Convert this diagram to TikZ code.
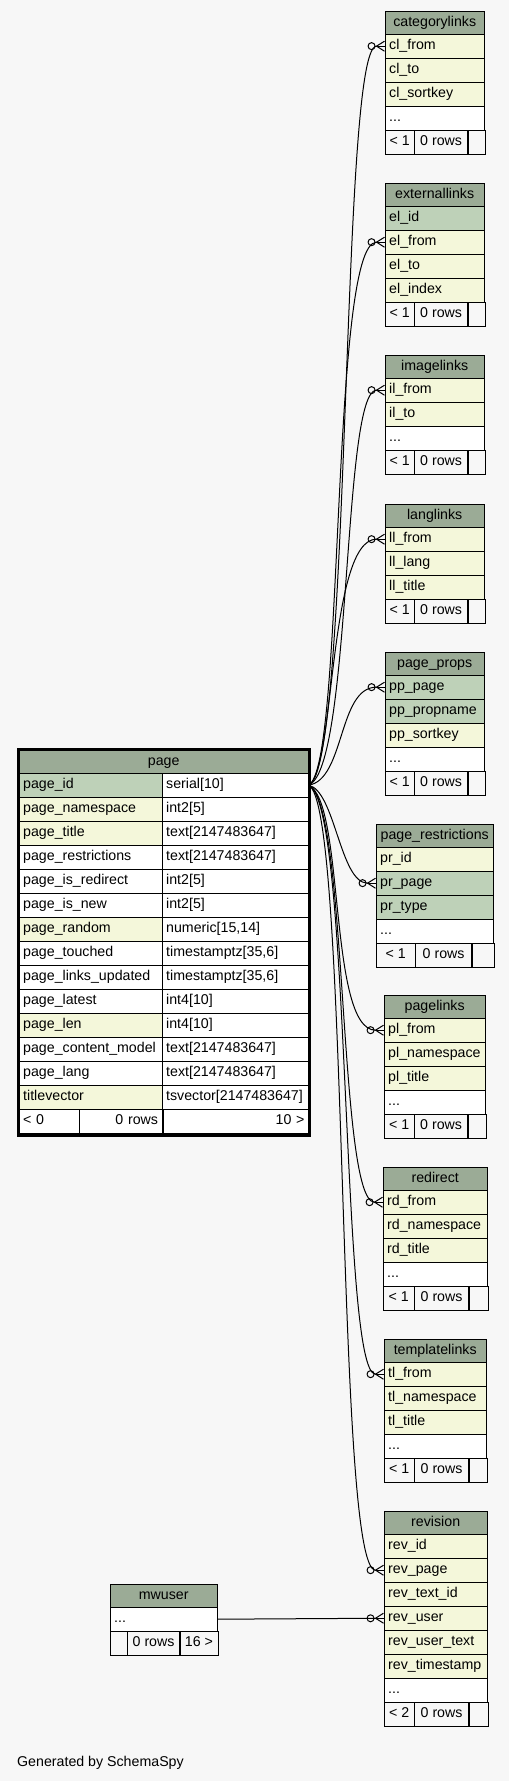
\documentclass[tikz,border=0pt]{standalone}
\usepackage{fontspec}
\setmainfont{Liberation Sans}
\usepackage{tikz}
\usetikzlibrary{arrows.meta,positioning}
\definecolor{headgreen}{HTML}{9BAB96}
\definecolor{keygreen}{HTML}{BED1B8}
\definecolor{idxyellow}{HTML}{F4F7DA}
\definecolor{canvas}{HTML}{F7F7F7}
\tikzset{
  tblhead/.style={draw, fill=headgreen, anchor=north west, inner sep=0pt, minimum height=23pt, text height=10.5pt, text depth=3pt},
  fieldrow/.style={draw, fill=#1, anchor=north west, inner xsep=4pt, inner ysep=0pt, minimum height=24pt, text height=10.5pt, text depth=3pt, align=left},
  tblfoot/.style={draw, fill=canvas, inner sep=0pt, minimum height=24pt, text height=10.5pt, text depth=3pt},
  fk/.style={line width=1pt, -{Circle[open,length=8pt,width=8pt,line width=1pt] Straight Barb[reversed,length=8pt,width=10pt,line width=1pt]}},
}

\begin{document}
\begin{tikzpicture}[x=1pt,y=-1pt,font=\fontsize{14.2}{17}\selectfont]
\fill[canvas] (0,0) rectangle (509,1781);

% categorylinks
\node[tblhead, minimum width=99pt] (categorylinks) at (385,11) {categorylinks};
\foreach \nm/\txt/\fl [count=\i from 0] in {cl-from/cl\_from/idxyellow, cl-to/cl\_to/idxyellow, cl-sortkey/cl\_sortkey/idxyellow}
  \node[fieldrow=\fl, text width=91pt] (\nm) at (385,34+24*\i) {\txt};
\node[fieldrow=white, text width=91pt] (cl-more) at (385,106) {...};
\node[tblfoot, anchor=north west, minimum width=29pt] (cl-prev) at (385,130) {< 1};
\node[tblfoot, minimum width=53pt, right=0pt of cl-prev] (cl-rows) {0 rows};
\node[tblfoot, minimum width=17pt, right=0pt of cl-rows] (cl-next) {};

% externallinks
\node[tblhead, minimum width=99pt] (externallinks) at (385,183) {externallinks};
\foreach \nm/\txt/\fl [count=\i from 0] in {el-id/el\_id/keygreen, el-from/el\_from/idxyellow, el-to/el\_to/idxyellow, el-index/el\_index/idxyellow}
  \node[fieldrow=\fl, text width=91pt] (\nm) at (385,206+24*\i) {\txt};
\node[tblfoot, anchor=north west, minimum width=29pt] (el-prev) at (385,302) {< 1};
\node[tblfoot, minimum width=53pt, right=0pt of el-prev] (el-rows) {0 rows};
\node[tblfoot, minimum width=17pt, right=0pt of el-rows] (el-next) {};

% imagelinks
\node[tblhead, minimum width=99pt] (imagelinks) at (385,355) {imagelinks};
\foreach \nm/\txt/\fl [count=\i from 0] in {il-from/il\_from/idxyellow, il-to/il\_to/idxyellow}
  \node[fieldrow=\fl, text width=91pt] (\nm) at (385,378+24*\i) {\txt};
\node[fieldrow=white, text width=91pt] (il-more) at (385,426) {...};
\node[tblfoot, anchor=north west, minimum width=29pt] (il-prev) at (385,450) {< 1};
\node[tblfoot, minimum width=53pt, right=0pt of il-prev] (il-rows) {0 rows};
\node[tblfoot, minimum width=17pt, right=0pt of il-rows] (il-next) {};

% langlinks
\node[tblhead, minimum width=99pt] (langlinks) at (385,504) {langlinks};
\foreach \nm/\txt/\fl [count=\i from 0] in {ll-from/ll\_from/idxyellow, ll-lang/ll\_lang/idxyellow, ll-title/ll\_title/idxyellow}
  \node[fieldrow=\fl, text width=91pt] (\nm) at (385,527+24*\i) {\txt};
\node[tblfoot, anchor=north west, minimum width=29pt] (ll-prev) at (385,599) {< 1};
\node[tblfoot, minimum width=53pt, right=0pt of ll-prev] (ll-rows) {0 rows};
\node[tblfoot, minimum width=17pt, right=0pt of ll-rows] (ll-next) {};

% page_props
\node[tblhead, minimum width=99pt] (page-props) at (385,652) {page\_props};
\foreach \nm/\txt/\fl [count=\i from 0] in {pp-page/pp\_page/keygreen, pp-propname/pp\_propname/keygreen, pp-sortkey/pp\_sortkey/idxyellow}
  \node[fieldrow=\fl, text width=91pt] (\nm) at (385,675+24*\i) {\txt};
\node[fieldrow=white, text width=91pt] (pp-more) at (385,747) {...};
\node[tblfoot, anchor=north west, minimum width=29pt] (pp-prev) at (385,771) {< 1};
\node[tblfoot, minimum width=53pt, right=0pt of pp-prev] (pp-rows) {0 rows};
\node[tblfoot, minimum width=17pt, right=0pt of pp-rows] (pp-next) {};

% page_restrictions
\node[tblhead, minimum width=117pt] (page-restr) at (376,824) {page\_restrictions};
\foreach \nm/\txt/\fl [count=\i from 0] in {pr-id/pr\_id/idxyellow, pr-page/pr\_page/keygreen, pr-type/pr\_type/keygreen}
  \node[fieldrow=\fl, text width=109pt] (\nm) at (376,847+24*\i) {\txt};
\node[fieldrow=white, text width=109pt] (pr-more) at (376,919) {...};
\node[tblfoot, anchor=north west, minimum width=39pt] (pr-prev) at (376,943) {< 1};
\node[tblfoot, minimum width=56pt, right=0pt of pr-prev] (pr-rows) {0 rows};
\node[tblfoot, minimum width=22pt, right=0pt of pr-rows] (pr-next) {};

% pagelinks
\node[tblhead, minimum width=101pt] (pagelinks) at (384,995) {pagelinks};
\foreach \nm/\txt/\fl [count=\i from 0] in {pl-from/pl\_from/idxyellow, pl-namespace/pl\_namespace/idxyellow, pl-title/pl\_title/idxyellow}
  \node[fieldrow=\fl, text width=93pt] (\nm) at (384,1018+24*\i) {\txt};
\node[fieldrow=white, text width=93pt] (pl-more) at (384,1090) {...};
\node[tblfoot, anchor=north west, minimum width=30pt] (pl-prev) at (384,1114) {< 1};
\node[tblfoot, minimum width=53pt, right=0pt of pl-prev] (pl-rows) {0 rows};
\node[tblfoot, minimum width=18pt, right=0pt of pl-rows] (pl-next) {};

% redirect
\node[tblhead, minimum width=104pt] (redirect) at (383,1167) {redirect};
\foreach \nm/\txt/\fl [count=\i from 0] in {rd-from/rd\_from/idxyellow, rd-namespace/rd\_namespace/idxyellow, rd-title/rd\_title/idxyellow}
  \node[fieldrow=\fl, text width=96pt] (\nm) at (383,1190+24*\i) {\txt};
\node[fieldrow=white, text width=96pt] (rd-more) at (383,1262) {...};
\node[tblfoot, anchor=north west, minimum width=31pt] (rd-prev) at (383,1286) {< 1};
\node[tblfoot, minimum width=54pt, right=0pt of rd-prev] (rd-rows) {0 rows};
\node[tblfoot, minimum width=19pt, right=0pt of rd-rows] (rd-next) {};

% templatelinks
\node[tblhead, minimum width=102pt] (templatelinks) at (384,1339) {templatelinks};
\foreach \nm/\txt/\fl [count=\i from 0] in {tl-from/tl\_from/idxyellow, tl-namespace/tl\_namespace/idxyellow, tl-title/tl\_title/idxyellow}
  \node[fieldrow=\fl, text width=94pt] (\nm) at (384,1362+24*\i) {\txt};
\node[fieldrow=white, text width=94pt] (tl-more) at (384,1434) {...};
\node[tblfoot, anchor=north west, minimum width=30pt] (tl-prev) at (384,1458) {< 1};
\node[tblfoot, minimum width=54pt, right=0pt of tl-prev] (tl-rows) {0 rows};
\node[tblfoot, minimum width=18pt, right=0pt of tl-rows] (tl-next) {};

% revision
\node[tblhead, minimum width=103pt] (revision) at (384,1511) {revision};
\foreach \nm/\txt/\fl [count=\i from 0] in {rev-id/rev\_id/idxyellow, rev-page/rev\_page/idxyellow, rev-text-id/rev\_text\_id/idxyellow, rev-user/rev\_user/idxyellow, rev-user-text/rev\_user\_text/idxyellow, rev-timestamp/rev\_timestamp/idxyellow}
  \node[fieldrow=\fl, text width=95pt] (\nm) at (384,1534+24*\i) {\txt};
\node[fieldrow=white, text width=95pt] (rev-more) at (384,1678) {...};
\node[tblfoot, anchor=north west, minimum width=30pt] (rev-prev) at (384,1702) {< 2};
\node[tblfoot, minimum width=54pt, right=0pt of rev-prev] (rev-rows) {0 rows};
\node[tblfoot, minimum width=19pt, right=0pt of rev-rows] (rev-next) {};

% mwuser
\node[tblhead, minimum width=107pt] (mwuser) at (110,1584) {mwuser};
\node[fieldrow=white, text width=99pt] (mw-more) at (110,1607) {...};
\node[tblfoot, anchor=north west, minimum width=17pt] (mw-prev) at (110,1631) {};
\node[tblfoot, minimum width=52pt, right=0pt of mw-prev] (mw-rows) {0 rows};
\node[tblfoot, minimum width=38pt, right=0pt of mw-rows] (mw-next) {16 >};

% page
\node[tblhead, minimum width=289pt] (page) at (19,750) {page};
\foreach \nm/\col/\typ/\fl [count=\i from 0] in {
  page-id/page\_id/serial[10]/keygreen,
  page-namespace/page\_namespace/int2[5]/idxyellow,
  page-title/page\_title/text[2147483647]/idxyellow,
  page-restrictions/page\_restrictions/text[2147483647]/white,
  page-is-redirect/page\_is\_redirect/int2[5]/white,
  page-is-new/page\_is\_new/int2[5]/white,
  page-random/page\_random/{numeric[15,14]}/idxyellow,
  page-touched/page\_touched/{timestamptz[35,6]}/white,
  page-links-updated/page\_links\_updated/{timestamptz[35,6]}/white,
  page-latest/page\_latest/int4[10]/white,
  page-len/page\_len/int4[10]/idxyellow,
  page-content-model/page\_content\_model/text[2147483647]/white,
  page-lang/page\_lang/text[2147483647]/white,
  titlevector/titlevector/tsvector[2147483647]/idxyellow}
{
  \node[fieldrow=\fl, text width=135pt] (\nm) at (19,773+24*\i) {\col};
  \node[fieldrow=white, text width=138pt] (\nm-type) at (162,773+24*\i) {\typ};
}
\node[tblfoot, fill=white, anchor=north west, minimum width=60pt, text width=52pt, align=left] (page-prev) at (19,1109) {< 0};
\node[tblfoot, fill=white, minimum width=83pt, text width=74pt, align=right, right=0pt of page-prev] (page-rows) {0 rows};
\node[tblfoot, fill=white, minimum width=146pt, text width=137pt, align=right, right=0pt of page-rows] (page-next) {10 >};
\draw[line width=2.4pt] (18.2,749.2) rectangle (309.3,1135.6);

% foreign keys
\draw[fk] (page-id-type.east) .. controls (352,770) and (340,46) .. (cl-from.west);
\draw[fk] (page-id-type.east) .. controls (345,770) and (330,242) .. (el-from.west);
\draw[fk] (page-id-type.east) .. controls (352,770) and (342,390) .. (il-from.west);
\draw[fk] (page-id-type.east) .. controls (335,775) and (328,539) .. (ll-from.west);
\draw[fk] (page-id-type.east) .. controls (345,780) and (338,687) .. (pp-page.west);
\draw[fk] (page-id-type.east) .. controls (335,790) and (340,883) .. (pr-page.west);
\draw[fk] (page-id-type.east) .. controls (345,800) and (328,1030) .. (pl-from.west);
\draw[fk] (page-id-type.east) .. controls (348,800) and (338,1202) .. (rd-from.west);
\draw[fk] (page-id-type.east) .. controls (352,800) and (340,1374) .. (tl-from.west);
\draw[fk] (page-id-type.east) .. controls (350,800) and (335,1570) .. (rev-page.west);
\draw[fk] (mw-more.east) -- (rev-user.west);
\foreach \fkrow in {cl-from,el-from,il-from,ll-from,pp-page,pr-page,pl-from,rd-from,tl-from,rev-page,rev-user}
  \draw[line width=1pt] ([xshift=-8pt]\fkrow.west) -- (\fkrow.west);

\node[anchor=base west, inner sep=0pt] (credit) at (17,1766) {Generated by SchemaSpy};
\end{tikzpicture}
\end{document}
